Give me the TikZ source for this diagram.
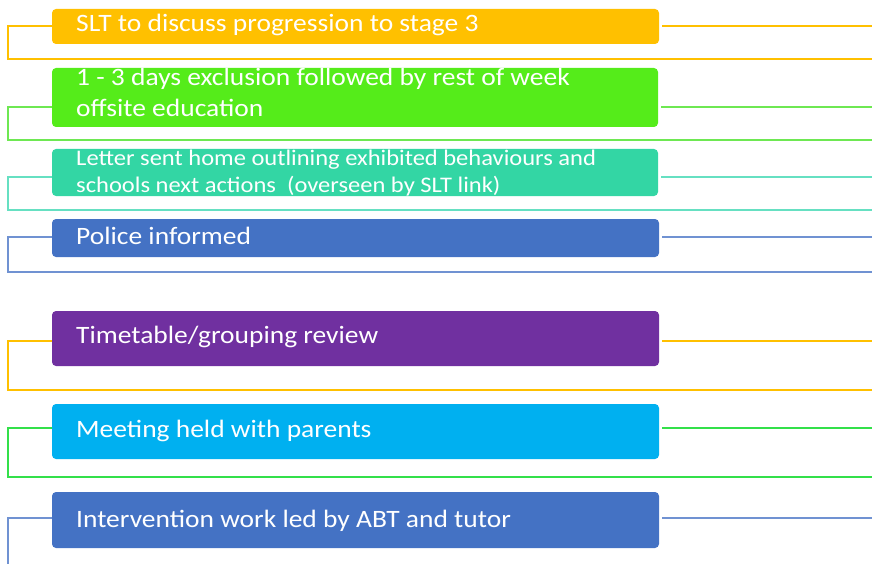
\documentclass[tikz,border=0pt]{standalone}
\usepackage{fontspec}
\usepackage{graphicx}
\setmainfont{Carlito}
\definecolor{cOrange}{HTML}{FFC000}
\definecolor{cGreen}{HTML}{55EC1A}
\definecolor{cGreenLine}{HTML}{6EE852}
\definecolor{cTeal}{HTML}{33D6A4}
\definecolor{cTealLine}{HTML}{66E0C2}
\definecolor{cBlue}{HTML}{4472C4}
\definecolor{cBlueLine}{HTML}{7092D2}
\definecolor{cPurple}{HTML}{7030A0}
\definecolor{cCyan}{HTML}{00B0F0}
\definecolor{cGreenTwo}{HTML}{33E04A}
\newcommand{\wide}[1]{\scalebox{1.1}[1]{#1}}
\tikzset{
  box/.style={draw=none, rounded corners=4pt},
  lbl/.style={anchor=base west, text=white, inner sep=0pt, font=\fontsize{25}{31}\selectfont, align=left},
  lblsmall/.style={lbl, font=\fontsize{22.3}{27}\selectfont},
  link/.style={line width=1.6pt},
}
\begin{document}
\begin{tikzpicture}[x=1pt,y=-1pt]
\useasboundingbox (0,0) rectangle (872,564);
% boxes
\fill[box, fill=cOrange] (52,9) rectangle (659,44);
\fill[box, fill=cGreen] (52,68) rectangle (658,127);
\fill[box, fill=cTeal] (52,149) rectangle (658,196);
\fill[box, fill=cBlue] (52,219) rectangle (659,257);
\fill[box, fill=cPurple] (52,311) rectangle (659,366);
\fill[box, fill=cCyan] (52,404) rectangle (659,459);
\fill[box, fill=cBlue] (52,492) rectangle (659,548);
\node[inner sep=0pt, minimum width=607pt, minimum height=35pt] (b1) at (355.5,26.5) {};
\node[inner sep=0pt, minimum width=606pt, minimum height=59pt] (b2) at (355,97.5) {};
\node[inner sep=0pt, minimum width=606pt, minimum height=47pt] (b3) at (355,172.5) {};
\node[inner sep=0pt, minimum width=607pt, minimum height=38pt] (b4) at (355.5,238) {};
\node[inner sep=0pt, minimum width=607pt, minimum height=55pt] (b5) at (355.5,338.5) {};
\node[inner sep=0pt, minimum width=607pt, minimum height=55pt] (b6) at (355.5,431.5) {};
\node[inner sep=0pt, minimum width=607pt, minimum height=56pt] (b7) at (355.5,520) {};
% texts
\node[lbl] (t1) at (76,32) {\wide{SLT to discuss progression to stage 3}};
\node[lbl] (t2) at (76,117) {\wide{1 - 3 days exclusion followed by rest of week}\\\wide{offsite education}};
\node[lblsmall] (t3) at (76,193) {\wide{Letter sent home outlining exhibited behaviours and}\\\wide{schools next actions\ \ (overseen by SLT link)}};
\node[lbl] (t4) at (76,244) {\wide{Police informed}};
\node[lbl] (t5) at (76,343) {\wide{Timetable/grouping review}};
\node[lbl] (t6) at (76,437) {\wide{Meeting held with parents}};
\node[lbl] (t7) at (76,527) {\wide{Intervention work led by ABT and tutor}};
% end coordinates
\coordinate (r1) at (872,26);  \coordinate (e1) at (872,59);
\coordinate (r2) at (872,107); \coordinate (e2) at (872,140);
\coordinate (r3) at (872,177); \coordinate (e3) at (872,210);
\coordinate (r4) at (872,237); \coordinate (e4) at (872,272);
\coordinate (r5) at (872,341); \coordinate (e5) at (872,390);
\coordinate (r6) at (872,428); \coordinate (e6) at (872,477);
\coordinate (r7) at (872,518); \coordinate (e7) at (8,564);
% connectors
\draw[link, cOrange] (b1.west |- 0,26) -- (8,26) |- (e1);
\draw[link, cOrange] ([xshift=3pt]b1.east |- 0,26) -- (r1);
\draw[link, cGreenLine] (b2.west |- 0,107) -- (8,107) |- (e2);
\draw[link, cGreenLine] ([xshift=3pt]b2.east |- 0,107) -- (r2);
\draw[link, cTealLine] (b3.west |- 0,177) -- (8,177) |- (e3);
\draw[link, cTealLine] ([xshift=3pt]b3.east |- 0,177) -- (r3);
\draw[link, cBlueLine] (b4.west |- 0,237) -- (8,237) |- (e4);
\draw[link, cBlueLine] ([xshift=3pt]b4.east |- 0,237) -- (r4);
\draw[link, cOrange] (b5.west |- 0,341) -- (8,341) |- (e5);
\draw[link, cOrange] ([xshift=3pt]b5.east |- 0,341) -- (r5);
\draw[link, cGreenTwo] (b6.west |- 0,428) -- (8,428) |- (e6);
\draw[link, cGreenTwo] ([xshift=3pt]b6.east |- 0,428) -- (r6);
\draw[link, cBlueLine] (b7.west |- 0,518) -- (8,518) -- (e7);
\draw[link, cBlueLine] ([xshift=3pt]b7.east |- 0,518) -- (r7);
\end{tikzpicture}
\end{document}
